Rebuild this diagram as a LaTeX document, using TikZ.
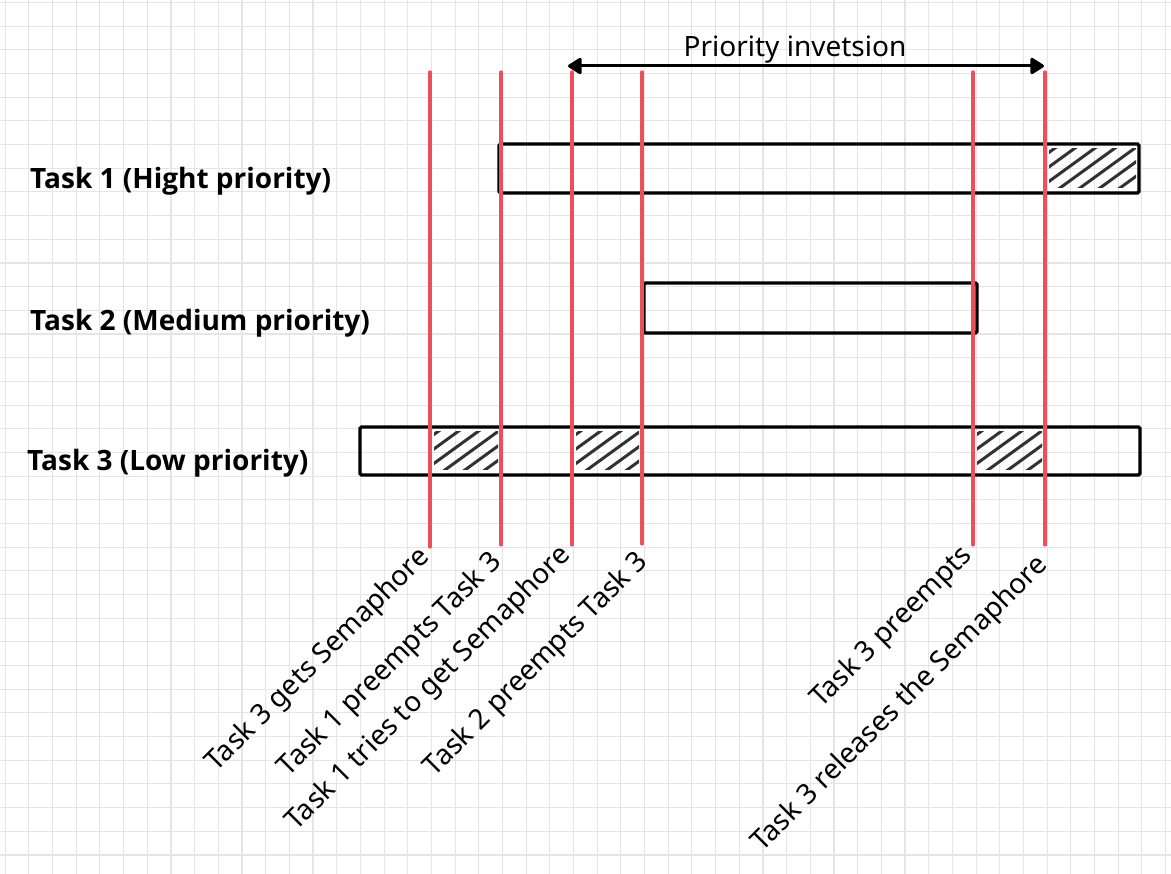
\documentclass[tikz,border=0pt]{standalone}
\usepackage{fontspec}
\setmainfont{Noto Sans}
\newfontfamily\taskfont{Open Sans Bold}
\usetikzlibrary{arrows.meta}

\definecolor{gridgray}{RGB}{229,229,229}
\definecolor{markred}{RGB}{236,78,90}
\definecolor{hatchgray}{RGB}{50,50,50}

\tikzset{
  gridline/.style={gridgray, line width=1.1pt},
  event/.style={markred, line width=3.2pt, line cap=round},
  taskbar/.style={draw=black, line width=3.3pt, rounded corners=1.5pt, inner sep=0pt, outer sep=0pt},
  hatchline/.style={hatchgray, line width=3pt, line cap=round},
  tasklabel/.style={font=\fontsize{28}{33}\taskfont, anchor=base west, inner sep=0pt},
  eventlabel/.style={font=\fontsize{28}{34}\selectfont, rotate=45, anchor=base east, inner sep=0pt},
  spanlabel/.style={font=\fontsize{28}{34}\selectfont, anchor=base, inner sep=0pt},
  span/.style={line width=3pt, {Triangle[round,length=15pt,width=18pt]}-{Triangle[round,length=15pt,width=18pt]}},
}

% diagonal hatching inside the rectangle (#1,#2)--(#3,#4)
\newcommand\hatchcell[4]{%
  \begin{scope}
    \clip ({#1+4},{#2+5}) rectangle ({#3-3},{#4-5});
    \foreach \k in {0,...,10}
      \draw[hatchline] ({#1-72+20*\k},{#4}) -- ++(80,-58);
  \end{scope}}

\begin{document}
\begin{tikzpicture}[x=1pt,y=-1pt]
\useasboundingbox (0,0) rectangle (1171,874);
\fill[white] (0,0) rectangle (1171,874);

% background grid
\foreach \i in {0,...,49}
  \draw[gridline] ({5.2+23.68*\i},0) -- ++(0,874);
\foreach \j in {0,...,36}
  \draw[gridline] (0,{2.5+23.68*\j}) -- ++(1171,0);

% hatched intervals (semaphore held)
\hatchcell{1045}{144}{1139}{193}
\hatchcell{430}{427}{501}{475}
\hatchcell{572}{427}{642}{475}
\hatchcell{973}{427}{1045}{475}

% task bars
\node[taskbar, minimum width=640pt, minimum height=49pt] (bar1) at (819,168.5) {};
\node[taskbar, minimum width=333pt, minimum height=50pt] (bar2) at (810.5,308) {};
\node[taskbar, minimum width=780pt, minimum height=48pt] (bar3) at (750,451) {};

% task names
\node[tasklabel] (name1) at (30,189) {Task 1 (Hight priority)};
\node[tasklabel] (name2) at (30,331) {Task 2 (Medium priority)};
\node[tasklabel] (name3) at (27,471) {Task 3 (Low priority)};

% event markers
\coordinate (e1t) at (430,72);  \coordinate (e1b) at (430,547);
\coordinate (e2t) at (501,72);  \coordinate (e2b) at (501,545);
\coordinate (e3t) at (572,72);  \coordinate (e3b) at (572,545);
\coordinate (e4t) at (642,72);  \coordinate (e4b) at (642,544);
\coordinate (e5t) at (973,72);  \coordinate (e5b) at (973,545);
\coordinate (e6t) at (1045,72); \coordinate (e6b) at (1045,545);
\foreach \n in {1,...,6}
  \draw[event] (e\n t) -- (e\n b);

% event descriptions
\node[eventlabel] (ev1) at (431,558) {Task 3 gets Semaphore};
\node[eventlabel] (ev2) at (503,563) {Task 1 preempts Task 3};
\node[eventlabel] (ev3) at (572,556) {Task 1 tries to get Semaphore};
\node[eventlabel] (ev4) at (649,563) {Task 2 preempts Task 3};
\node[eventlabel] (ev5) at (973,557) {Task 3 preempts};
\node[eventlabel] (ev6) at (1049,566) {Task 3 releases the Semaphore};

% priority inversion span
\coordinate (pa) at (568,66);
\coordinate (pb) at (1044,66);
\draw[span] (pa) -- (pb);
\node[spanlabel] (pinv) at (795,57) {Priority invetsion};
\end{tikzpicture}
\end{document}
